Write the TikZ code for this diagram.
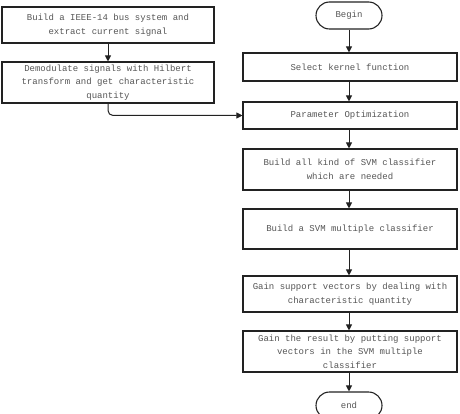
\documentclass[tikz,border=0pt]{standalone}
\usepackage{fontspec}
\setmainfont{Liberation Mono}
\usetikzlibrary{arrows.meta,shapes.misc}
\definecolor{txt}{HTML}{555555}
\definecolor{ln}{HTML}{222222}
\tikzset{
  box/.style={draw=ln, line width=1.1pt, rectangle, align=center, text=txt,
    font=\fontsize{9}{13.5}\selectfont, inner sep=0pt},
  term/.style={draw=ln, line width=1.1pt, rounded rectangle, text=txt,
    font=\fontsize{9}{13.5}\selectfont, inner sep=0pt},
  arr/.style={draw=ln, line width=1pt, -{Triangle[length=6pt,width=6pt]}}
}
\begin{document}
\begin{tikzpicture}[x=1pt,y=1pt]
\useasboundingbox (0,0) rectangle (460,-414);
\clip (0,0) rectangle (460,-414);
% left column
\node[box, minimum width=212pt, minimum height=36pt] (l1) at (108,-25)
  {Build a IEEE-14 bus system and\\extract current signal};
\node[box, minimum width=212pt, minimum height=41pt] (l2) at (108,-82.5)
  {Demodulate signals with Hilbert\\transform and get characteristic\\quantity};
% right column
\node[term, minimum width=66pt, minimum height=27pt] (begin) at (349,-15.5) {Begin};
\node[box, minimum width=214pt, minimum height=28pt] (r1) at (350,-67) {Select kernel function};
\node[box, minimum width=214pt, minimum height=27pt] (r2) at (350,-115.5) {Parameter Optimization};
\node[box, minimum width=214pt, minimum height=41pt] (r3) at (350,-169.5)
  {Build all kind of SVM classifier\\which are needed};
\node[box, minimum width=214pt, minimum height=40pt] (r4) at (350,-229) {Build a SVM multiple classifier};
\node[box, minimum width=214pt, minimum height=36pt] (r5) at (350,-294)
  {Gain support vectors by dealing with\\characteristic quantity};
\node[box, minimum width=214pt, minimum height=41pt] (r6) at (350,-351.5)
  {Gain the result by putting support\\vectors in the SVM multiple\\classifier};
\node[term, minimum width=66pt, minimum height=27pt] (end) at (349,-405.5) {end};
% connectors
\draw[arr] (l1.south) -- (l2.south |- l2.north);
\draw[arr, rounded corners=5pt] (l2.south) |- (r2.west);
\draw[arr] (begin.south) -- (begin.south |- r1.north);
\draw[arr] (begin.south |- r1.south) -- (begin.south |- r2.north);
\draw[arr] (begin.south |- r2.south) -- (begin.south |- r3.north);
\draw[arr] (begin.south |- r3.south) -- (begin.south |- r4.north);
\draw[arr] (begin.south |- r4.south) -- (begin.south |- r5.north);
\draw[arr] (begin.south |- r5.south) -- (begin.south |- r6.north);
\draw[arr] (begin.south |- r6.south) -- (end.north);
\end{tikzpicture}
\end{document}
